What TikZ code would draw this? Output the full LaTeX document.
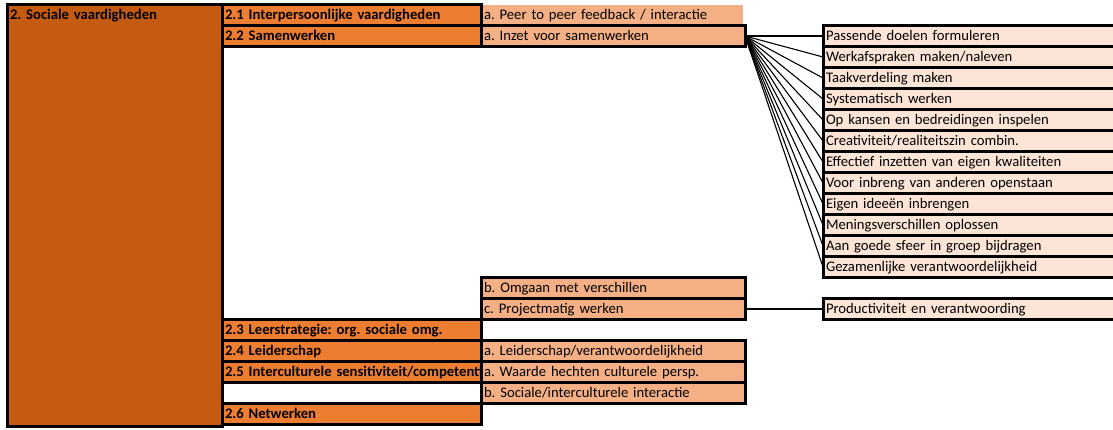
\documentclass[tikz,border=0pt]{standalone}
\usepackage{fontspec}
\setmainfont{Carlito}
\frenchspacing
\usetikzlibrary{positioning}
\definecolor{donker}{HTML}{C55A11}
\definecolor{midden}{HTML}{ED7D31}
\definecolor{licht}{HTML}{F4B084}
\definecolor{bleek}{HTML}{FCE4D6}
\tikzset{
  cel/.style={rectangle, draw, line width=3pt, anchor=north west, outer sep=0pt,
    inner xsep=3pt, inner ysep=0pt, minimum height=21pt,
    text height=11pt, text depth=2pt, align=left,
    font=\fontsize{14.67}{17}\selectfont},
  hoofd/.style={cel, fill=donker, text width=209pt, text height=15pt, text depth=407pt,
    font=\fontsize{14.67}{17}\selectfont\bfseries},
  sub/.style={cel, fill=midden, text width=253pt, font=\fontsize{14.67}{17}\selectfont\bfseries},
  leeg/.style={cel, fill=white, text width=253pt},
  item/.style={cel, fill=licht, text width=258pt},
  detail/.style={cel, fill=bleek, text width=294pt},
  lijn/.style={line width=1.1pt}
}
\begin{document}
\begin{tikzpicture}[x=1pt, y=-1pt]
  \clip (0,0) rectangle (1113,429);

  % first column
  \node[item, draw=none, text width=256pt] (peer) at (481,4.5) {a. Peer to peer feedback / interactie};
  \node[hoofd] (soc) at (7,4.5) {2. Sociale vaardigheden};

  % sub skills and their parts
  \node[sub] (s21) at (222,4.5) {2.1 Interpersoonlijke vaardigheden};
  \node[sub] (s22) at (222,25.5) {2.2 Samenwerken};
  \node[item] (inzet) at (481,25.5) {a. Inzet voor samenwerken};
  \node[item] (omgaan) at (481,277.5) {b. Omgaan met verschillen};
  \node[item] (proj) at (481,298.5) {c. Projectmatig werken};
  \node[sub] (s23) at (222,319.5) {2.3 Leerstrategie: org. sociale omg.};
  \node[sub] (s24) at (222,340.5) {2.4 Leiderschap};
  \node[item] (leid) at (481,340.5) {a. Leiderschap/verantwoordelijkheid};
  \node[sub] (s25) at (222,361.5) {\mbox{2.5 Interculturele sensitiviteit/competentie}};
  \node[item] (waarde) at (481,361.5) {a. Waarde hechten culturele persp.};
  \node[leeg] (s25b) at (222,382.5) {};
  \node[item] (sociaal) at (481,382.5) {b. Sociale/interculturele interactie};
  \node[sub] (s26) at (222,403.5) {2.6 Netwerken};

  % details of samenwerken
  \foreach \t [count=\i] in {Passende doelen formuleren, Werkafspraken maken/naleven,
      Taakverdeling maken, Systematisch werken, Op kansen en bedreidingen inspelen,
      Creativiteit/realiteitszin combin., Effectief inzetten van eigen kwaliteiten,
      Voor inbreng van anderen openstaan, Eigen ideeën inbrengen,
      Meningsverschillen oplossen, Aan goede sfeer in groep bijdragen,
      Gezamenlijke verantwoordelijkheid} {
    \node[detail] (d\i) at (823,4.5+\i*21) {\t};
    \draw[lijn] (inzet.east) -- (d\i.west);
  }

  \node[detail] (prod) at (823,298.5) {Productiviteit en verantwoording};
  \draw[lijn] (proj.east) -- (prod.west);
\end{tikzpicture}
\end{document}
